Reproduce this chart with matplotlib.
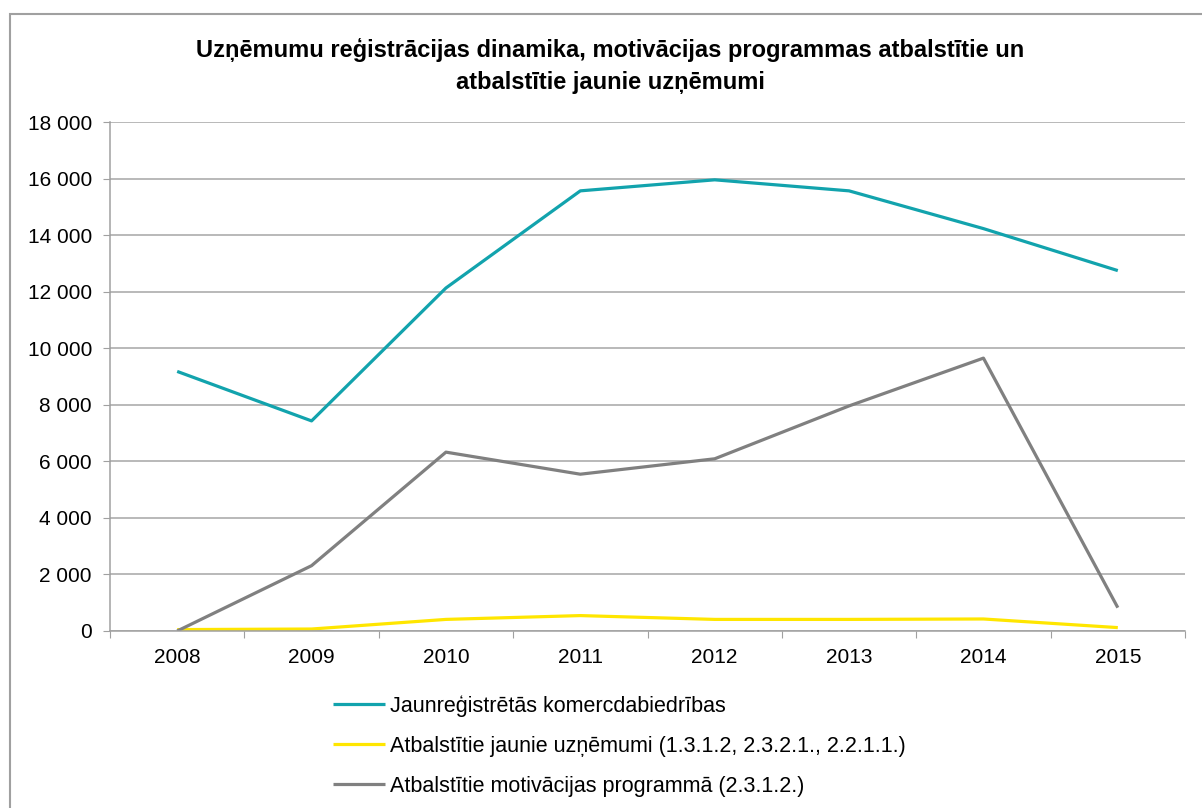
import matplotlib.pyplot as plt
from matplotlib.patches import Rectangle
from matplotlib.ticker import FuncFormatter

# data
years = ['2008', '2009', '2010', '2011', '2012', '2013', '2014', '2015']
registered = [9180, 7430, 12130, 15565, 15955, 15565, 14230, 12745]
supported_new = [50, 70, 410, 545, 410, 410, 425, 120]
motivation = [0, 2310, 6325, 5545, 6090, 7960, 9650, 825]

labels = ['Jaunreģistrētās komercdabiedrības',
          'Atbalstītie jaunie uzņēmumi (1.3.1.2, 2.3.2.1., 2.2.1.1.)',
          'Atbalstītie motivācijas programmā (2.3.1.2.)']
colors = ['#12a3ad', '#ffe600', '#808080']

plt.rcParams['font.family'] = ['Liberation Sans', 'DejaVu Sans']

W, H = 1202, 808
fig = plt.figure(figsize=(W / 100, H / 100), dpi=100)

# outer chart frame (runs off the right and bottom edges)
fig.patches.append(Rectangle((9.5 / W, -0.05), 1.1, 1 - 13.5 / H + 0.05,
                             transform=fig.transFigure, fill=False,
                             edgecolor='#a0a0a0', linewidth=1.5))

ax = fig.add_axes([110 / W, 1 - 631 / H, (1185 - 110) / W, (631 - 122) / H])

x = range(len(years))
for vals, lab, col in zip([registered, supported_new, motivation], labels, colors):
    ax.plot(x, vals, color=col, linewidth=2.3, label=lab, solid_capstyle='butt')

ax.set_xlim(-0.5, len(years) - 0.5)
ax.set_ylim(0, 18000)
ax.set_yticks(range(0, 18001, 2000))
ax.yaxis.set_major_formatter(FuncFormatter(lambda v, p: f'{int(v):,}'.replace(',', ' ')))
ax.grid(True, axis='y', color='#a6a6a6', linewidth=1.1)
ax.set_axisbelow(True)

# category boundary ticks, labels centred
ax.set_xticks([i - 0.5 for i in range(len(years) + 1)])
ax.set_xticklabels([])
ax.set_xticks(list(x), minor=True)
ax.set_xticklabels(years, minor=True)
ax.tick_params(axis='x', which='major', length=5, color='#a0a0a0', direction='out')
ax.tick_params(axis='x', which='minor', length=0, pad=12, labelsize=15)
ax.tick_params(axis='y', length=5, color='#a0a0a0', pad=8, labelsize=15)

for s in ['top', 'right']:
    ax.spines[s].set_visible(False)
for s in ['left', 'bottom']:
    ax.spines[s].set_color('#a0a0a0')
    ax.spines[s].set_linewidth(1.1)

fig.text(0.508, 1 - 65.5 / H, 'Uzņēmumu reģistrācijas dinamika, motivācijas programmas atbalstītie un\natbalstītie jaunie uzņēmumi',
         ha='center', va='center', fontsize=17, fontweight='bold', linespacing=1.5)

fig.legend(loc='upper left', bbox_to_anchor=(314 / W, 1 - 676 / H), frameon=False,
           fontsize=15.5, handlelength=2.4, handletextpad=0.22, labelspacing=0.88)

fig.savefig('out.png', dpi=100)
